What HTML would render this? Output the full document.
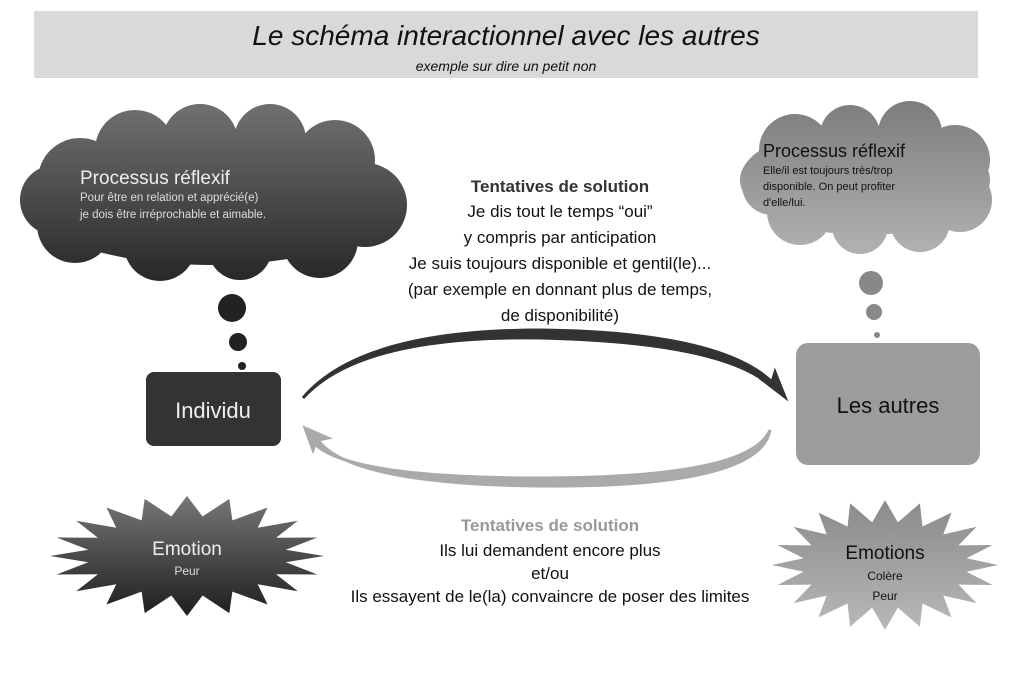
<!DOCTYPE html>
<html><head><meta charset="utf-8"><style>
body{margin:0;background:#fff;width:1011px;height:682px;overflow:hidden;font-family:"Liberation Sans",sans-serif}
</style></head><body>
<svg width="1011" height="682" viewBox="0 0 1011 682" xmlns="http://www.w3.org/2000/svg" font-family="Liberation Sans, sans-serif">
<defs>
<linearGradient id="gL" gradientUnits="userSpaceOnUse" x1="0" y1="110" x2="0" y2="285"><stop offset="0" stop-color="#6e6e6e"/><stop offset="1" stop-color="#262626"/></linearGradient>
<linearGradient id="gR" gradientUnits="userSpaceOnUse" x1="0" y1="100" x2="0" y2="258"><stop offset="0" stop-color="#7c7c7c"/><stop offset="1" stop-color="#b3b3b3"/></linearGradient>
<linearGradient id="sL" x1="0" y1="0" x2="0" y2="1"><stop offset="0" stop-color="#777"/><stop offset="1" stop-color="#1e1e1e"/></linearGradient>
<linearGradient id="sR" x1="0" y1="0" x2="0" y2="1"><stop offset="0" stop-color="#8a8a8a"/><stop offset="1" stop-color="#b8b8b8"/></linearGradient>
</defs>
<rect x="34" y="11" width="944" height="67" fill="#d9d9d9"/>
<text x="506" y="45" text-anchor="middle" font-size="28" font-style="italic" fill="#111">Le schéma interactionnel avec les autres</text>
<text x="506" y="71" text-anchor="middle" font-size="14" font-style="italic" fill="#111">exemple sur dire un petit non</text>

<g fill="url(#gL)">
<ellipse cx="210" cy="200" rx="185" ry="65"/>
<circle cx="80" cy="180" r="42"/><circle cx="135" cy="150" r="40"/><circle cx="200" cy="142" r="38"/>
<circle cx="270" cy="140" r="36"/><circle cx="335" cy="160" r="40"/><circle cx="365" cy="205" r="42"/>
<circle cx="320" cy="240" r="38"/><circle cx="240" cy="248" r="32"/><circle cx="160" cy="245" r="36"/>
<circle cx="75" cy="225" r="38"/><circle cx="55" cy="200" r="35"/>
</g>
<text x="80" y="184" font-size="19" fill="#eee">Processus réflexif</text>
<text x="80" y="201" font-size="11.5" fill="#ddd">Pour être en relation et apprécié(e)</text>
<text x="80" y="218" font-size="11.5" fill="#ddd">je dois être irréprochable et aimable.</text>
<circle cx="232" cy="308" r="14" fill="#222"/><circle cx="238" cy="342" r="9" fill="#222"/><circle cx="242" cy="366" r="4" fill="#222"/>

<g fill="url(#gR)">
<ellipse cx="865" cy="180" rx="125" ry="55"/>
<circle cx="795" cy="150" r="36"/><circle cx="850" cy="135" r="30"/><circle cx="910" cy="133" r="32"/>
<circle cx="955" cy="160" r="35"/><circle cx="960" cy="200" r="32"/><circle cx="920" cy="222" r="30"/>
<circle cx="860" cy="226" r="28"/><circle cx="800" cy="212" r="33"/><circle cx="772" cy="185" r="30"/>
</g>
<text x="763" y="157" font-size="18" fill="#111">Processus réflexif</text>
<text x="763" y="174" font-size="11" fill="#111">Elle/il est toujours très/trop</text>
<text x="763" y="190" font-size="11" fill="#111">disponible. On peut profiter</text>
<text x="763" y="206" font-size="11" fill="#111">d'elle/lui.</text>
<circle cx="871" cy="283" r="12" fill="#888"/><circle cx="874" cy="312" r="8" fill="#888"/><circle cx="877" cy="335" r="3" fill="#888"/>

<rect x="146" y="372" width="135" height="74" rx="8" fill="#333"/>
<text x="213" y="418" text-anchor="middle" font-size="22" fill="#eee">Individu</text>
<rect x="796" y="343" width="184" height="122" rx="12" fill="#9c9c9c"/>
<text x="888" y="413" text-anchor="middle" font-size="22" fill="#111">Les autres</text>

<path d="M303 398 Q360 335 540 338 Q720 342 770 385 L760 378 L785 397 L775 372 L772 382 Q720 332 540 330 Q360 330 303 398 Z" fill="#333" stroke="#333" stroke-width="3"/>
<path d="M770 430 Q760 488 540 486 Q350 484 318 440 L328 438 L305 428 L313 450 L315 444 Q350 478 540 478 Q750 478 770 430 Z" fill="#aaa" stroke="#aaa" stroke-width="3"/>

<g text-anchor="middle" font-size="17" fill="#111">
<text x="560" y="192" font-weight="bold" fill="#333">Tentatives de solution</text>
<text x="560" y="217">Je dis tout le temps “oui”</text>
<text x="560" y="243">y compris par anticipation</text>
<text x="560" y="269">Je suis toujours disponible et gentil(le)...</text>
<text x="560" y="295">(par exemple en donnant plus de temps,</text>
<text x="560" y="321">de disponibilité)</text>
<text x="550" y="531" font-weight="bold" fill="#999">Tentatives de solution</text>
<text x="550" y="556">Ils lui demandent encore plus</text>
<text x="550" y="579">et/ou</text>
<text x="550" y="602">Ils essayent de le(la) convaincre de poser des limites</text>
</g>

<polygon id="star" fill="url(#sL)" points="324,556 285.8,562.2 317.3,574.5 276.1,574.2 297.8,591.3 257.7,584.3 267.6,604.5 232.4,591.6 229.3,613.1 202.6,595.5 187,616 171.4,595.5 144.7,613.1 141.6,591.6 106.4,604.5 116.3,584.3 76.2,591.3 97.9,574.2 56.7,574.5 88.2,562.2 50,556 88.2,549.8 56.7,537.5 97.9,537.8 76.2,520.7 116.3,527.7 106.4,507.5 141.6,520.4 144.7,498.9 171.4,516.5 187,496 202.6,516.5 229.3,498.9 232.4,520.4 267.6,507.5 257.7,527.7 297.8,520.7 276.1,537.8 317.3,537.5 285.8,549.8"/>
<text x="187" y="555" text-anchor="middle" font-size="19" fill="#eee">Emotion</text>
<text x="187" y="575" text-anchor="middle" font-size="12" fill="#ddd">Peur</text>

<polygon fill="url(#sR)" transform="translate(885,565) scale(0.825,1.08) translate(-187,-556)" points="324,556 285.8,562.2 317.3,574.5 276.1,574.2 297.8,591.3 257.7,584.3 267.6,604.5 232.4,591.6 229.3,613.1 202.6,595.5 187,616 171.4,595.5 144.7,613.1 141.6,591.6 106.4,604.5 116.3,584.3 76.2,591.3 97.9,574.2 56.7,574.5 88.2,562.2 50,556 88.2,549.8 56.7,537.5 97.9,537.8 76.2,520.7 116.3,527.7 106.4,507.5 141.6,520.4 144.7,498.9 171.4,516.5 187,496 202.6,516.5 229.3,498.9 232.4,520.4 267.6,507.5 257.7,527.7 297.8,520.7 276.1,537.8 317.3,537.5 285.8,549.8"/>
<text x="885" y="559" text-anchor="middle" font-size="19" fill="#111">Emotions</text>
<text x="885" y="580" text-anchor="middle" font-size="12" fill="#111">Colère</text>
<text x="885" y="600" text-anchor="middle" font-size="12" fill="#111">Peur</text>
</svg>
</body></html>
